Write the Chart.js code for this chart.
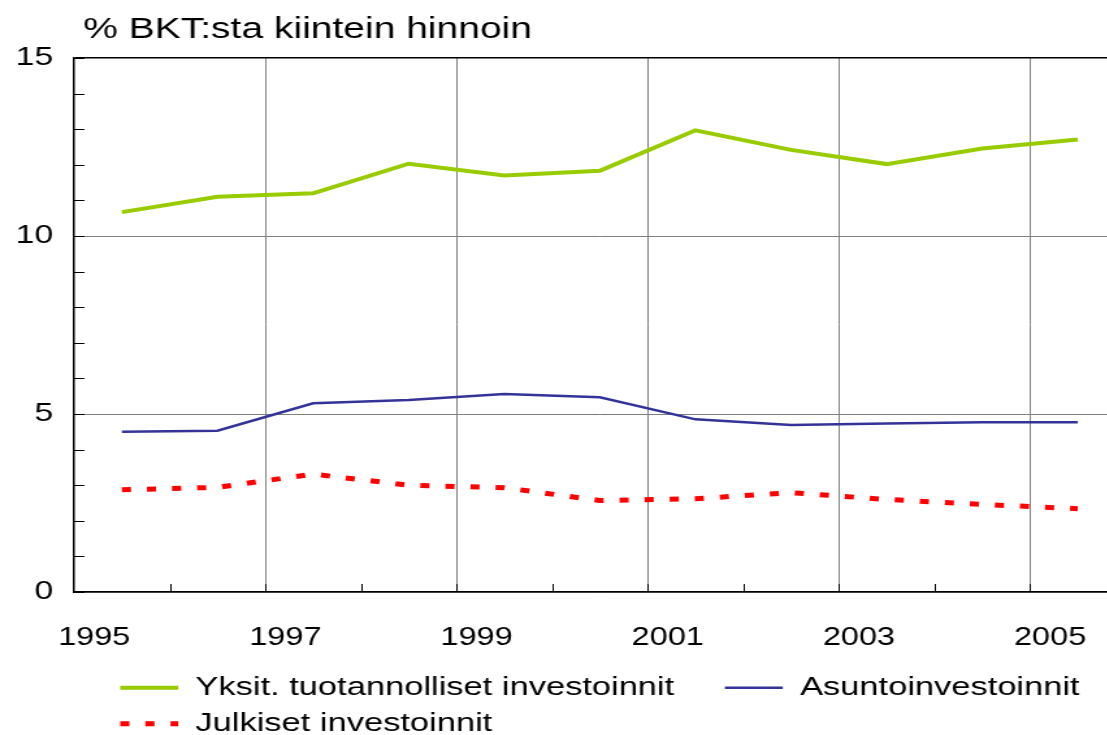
<!DOCTYPE html>
<html>
<head>
<meta charset="utf-8">
<script src="https://cdn.jsdelivr.net/npm/chart.js@4/dist/chart.umd.min.js"></script>
<style>
  html, body { margin: 0; padding: 0; background: #fff; overflow: hidden; }
  #wrap { width: 888px; height: 735px; transform: scaleX(1.3); transform-origin: 0 0; }
</style>
</head>
<body>
<div id="wrap"><canvas id="chart" width="888" height="735"></canvas></div>
<script>
// Data
const years = ["1995", "1996", "1997", "1998", "1999", "2000", "2001", "2002", "2003", "2004", "2005"]
const yearLabels = ["1995", "1997", "1999", "2001", "2003", "2005"]
const valueLabels = [0, 5, 10, 15]

const yksit = [10.67, 11.1, 11.2, 12.03, 11.7, 11.83, 12.97, 12.42, 12.02, 12.46, 12.71]
const asunto = [4.5, 4.53, 5.3, 5.39, 5.56, 5.47, 4.85, 4.69, 4.73, 4.77, 4.77]
const julkiset = [2.87, 2.94, 3.31, 3.0, 2.93, 2.57, 2.62, 2.79, 2.6, 2.46, 2.34]

const FONT = "'Liberation Sans', Arial, sans-serif"

// short tick marks pointing into the plot, like the original
const innerTicks = {
    id: "innerTicks",
    beforeDatasetsDraw(chart) {
        const { ctx, chartArea, scales: { x, y } } = chart
        ctx.save()
        ctx.strokeStyle = "#000"
        ctx.lineWidth = 1
        ctx.beginPath()
        y.ticks.forEach(t => {
            const py = Math.round(y.getPixelForValue(t.value)) + 0.5
            ctx.moveTo(chartArea.left, py)
            ctx.lineTo(chartArea.left + 8, py)
        })
        for (let i = 1; i < years.length; i++) {
            const px = Math.round((x.getPixelForValue(i - 1) + x.getPixelForValue(i)) / 2) + 0.5
            ctx.moveTo(px, chartArea.bottom)
            ctx.lineTo(px, chartArea.bottom - 8)
        }
        ctx.stroke()
        ctx.restore()
    }
}

// move title and legend to where they sit in the original
const placeBoxes = {
    id: "placeBoxes",
    afterLayout(chart) {
        chart.titleBlock.left += 64
        const l = chart.legend
        l.left += 83
        l.right += 83
        l.top += 12
        l.bottom += 12
    }
}

new Chart(document.getElementById("chart"), {
    type: "line",
    data: {
        labels: years,
        datasets: [
            {
                label: "Yksit. tuotannolliset investoinnit",
                data: yksit,
                borderColor: "#99cc00",
                backgroundColor: "#99cc00",
                borderWidth: 4,
                pointRadius: 0,
                tension: 0
            },
            {
                label: "Asuntoinvestoinnit",
                data: asunto,
                borderColor: "#333399",
                backgroundColor: "#333399",
                borderWidth: 2.5,
                pointRadius: 0,
                tension: 0
            },
            {
                label: "Julkiset investoinnit",
                data: julkiset,
                borderColor: "#ff0000",
                backgroundColor: "#ff0000",
                borderWidth: 5,
                borderDash: [7, 12.3],
                pointRadius: 0,
                tension: 0
            }
        ]
    },
    options: {
        responsive: false,
        animation: false,
        layout: { padding: { right: 3 } },
        plugins: {
            title: {
                display: true,
                text: "% BKT:sta kiintein hinnoin",
                align: "start",
                color: "#000",
                font: { family: FONT, size: 30, weight: "normal" },
                padding: { top: 12, bottom: 10 }
            },
            legend: {
                position: "bottom",
                align: "start",
                labels: {
                    usePointStyle: true,
                    pointStyle: "line",
                    pointStyleWidth: 44.6,
                    color: "#000",
                    font: { family: FONT, size: 26.5 },
                    padding: 9.5,
                    generateLabels(chart) {
                        const items = Chart.defaults.plugins.legend.labels.generateLabels(chart)
                        items.forEach(item => {
                            item.lineDash = chart.data.datasets[item.datasetIndex].borderDash || []
                        })
                        // wider gap after the first entry, as in the original
                        items[0].text += "\u00a0\u00a0\u00a0\u00a0"
                        return items
                    }
                }
            },
            tooltip: { enabled: false }
        },
        scales: {
            x: {
                type: "category",
                offset: true,
                afterFit(scale) { scale.height = 61 },
                grid: {
                    offset: true,
                    drawTicks: false,
                    color: c => (c.index > 0 && c.index % 2 === 0) ? "#7f7f7f" : "rgba(0,0,0,0)",
                    lineWidth: 1
                },
                border: { color: "#000", width: 1.5 },
                ticks: {
                    autoSkip: false,
                    maxRotation: 0,
                    padding: 31,
                    labelOffset: -21.3,
                    color: "#000",
                    font: { family: FONT, size: 25 },
                    callback: function (v) {
                        const lab = this.getLabelForValue(v)
                        return yearLabels.includes(lab) ? lab : ""
                    }
                }
            },
            y: {
                min: 0,
                max: 15,
                afterFit(scale) { scale.width = 57 },
                grid: {
                    drawTicks: false,
                    color: c => {
                        const v = c.tick.value
                        if (v === 15) return "#000"
                        return valueLabels.includes(v) ? "#7f7f7f" : "rgba(0,0,0,0)"
                    },
                    lineWidth: c => c.tick.value === 15 ? 1.5 : 1
                },
                border: { color: "#000", width: 1.5 },
                ticks: {
                    stepSize: 1,
                    autoSkip: false,
                    padding: 16,
                    color: "#000",
                    font: { family: FONT, size: 26 },
                    callback: v => valueLabels.includes(v) ? String(v) : ""
                }
            }
        }
    },
    plugins: [innerTicks, placeBoxes]
})
</script>
</body>
</html>
